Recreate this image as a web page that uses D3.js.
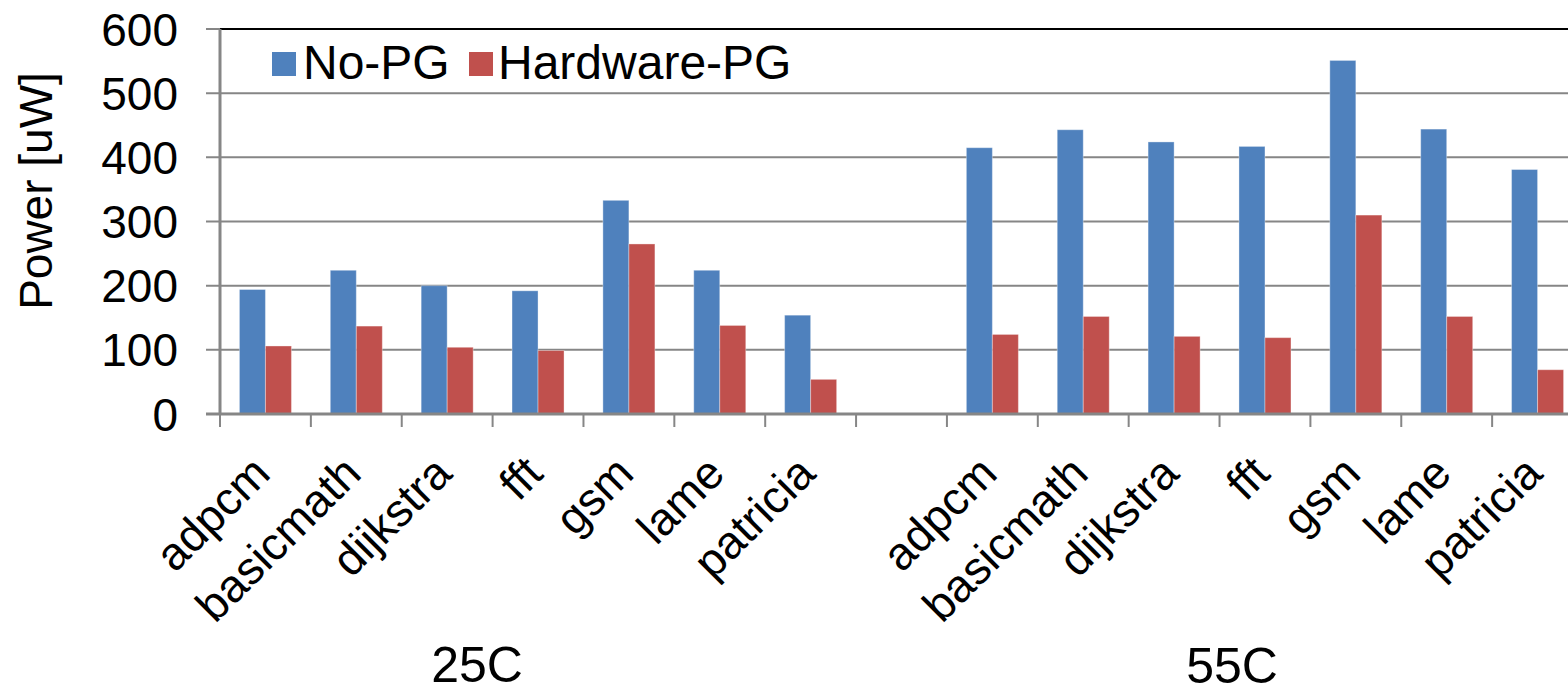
<!DOCTYPE html>
<html>
<head>
<meta charset="utf-8">
<script src="https://cdn.jsdelivr.net/npm/d3@7"></script>
<style>
  html, body { margin: 0; padding: 0; background: #fff; }
  svg { display: block; font-family: "Liberation Sans", Arial, sans-serif; }
</style>
</head>
<body>
<svg id="chart" width="1568" height="694"></svg>
<script>
// Benchmarks, temperature groups and series
const benchmarks = ["adpcm", "basicmath", "dijkstra", "fft", "gsm", "lame", "patricia"];
const groups = ["25C", "55C"];
const seriesNames = ["No-PG", "Hardware-PG"];
const seriesColors = ["#4F81BD", "#C0504D"];

// Power in uW
const noPG25 = [194, 224, 200, 192, 333, 224, 154];
const hwPG25 = [106, 137, 104, 99, 265, 138, 54];
const noPG55 = [415, 443, 424, 417, 551, 444, 381];
const hwPG55 = [124, 152, 121, 119, 310, 152, 69];

const yTicks = [0, 100, 200, 300, 400, 500, 600];

// Category slots: 25C benchmarks, an empty spacer slot, 55C benchmarks
const slots = [];
benchmarks.forEach((b, i) => slots.push({ key: "25C-" + b, label: b, values: [noPG25[i], hwPG25[i]] }));
slots.push({ key: "gap", label: "", values: null });
benchmarks.forEach((b, i) => slots.push({ key: "55C-" + b, label: b, values: [noPG55[i], hwPG55[i]] }));

const svg = d3.select("#chart");
const W = 1568;

const x = d3.scaleBand().domain(slots.map(d => d.key)).range([220, 1583]).padding(0);
const xs = d3.scaleBand().domain(seriesNames).range([0, x.bandwidth()])
  .paddingInner(0).paddingOuter(0.747);
const y = d3.scaleLinear().domain([0, 600]).range([414, 29]);

const grid = "#868686";

// Horizontal gridlines with short outer ticks on the value axis
svg.append("g").selectAll("line")
  .data(yTicks.filter(t => t > 0 && t < 600))
  .join("line")
  .attr("x1", 206).attr("x2", W)
  .attr("y1", d => y(d)).attr("y2", d => y(d))
  .attr("stroke", grid).attr("stroke-width", 2);

// Plot-area top border
svg.append("line").attr("x1", 206).attr("x2", 220)
  .attr("y1", y(600)).attr("y2", y(600))
  .attr("stroke", grid).attr("stroke-width", 2);
svg.append("line").attr("x1", 220).attr("x2", W)
  .attr("y1", y(600)).attr("y2", y(600))
  .attr("stroke", "#000").attr("stroke-width", 2);

// Bars
const barG = svg.append("g");
slots.filter(s => s.values).forEach(s => {
  barG.selectAll(null)
    .data(s.values.map((v, i) => ({ v, i })))
    .join("rect")
    .attr("x", d => x(s.key) + xs(seriesNames[d.i]))
    .attr("width", xs.bandwidth())
    .attr("y", d => y(d.v))
    .attr("height", d => y(0) - y(d.v))
    .attr("fill", d => seriesColors[d.i])
    .attr("stroke", "rgba(255,255,255,0.35)")
    .attr("stroke-width", 1);
});

// Value axis line
svg.append("line").attr("x1", 220).attr("x2", 220)
  .attr("y1", y(600)).attr("y2", y(0) + 1)
  .attr("stroke", grid).attr("stroke-width", 3);

// Category axis line
svg.append("line").attr("x1", 206).attr("x2", W)
  .attr("y1", y(0)).attr("y2", y(0))
  .attr("stroke", grid).attr("stroke-width", 3);

// Category tick marks at slot boundaries
const bounds = slots.map(s => x(s.key)).concat([x(slots[slots.length - 1].key) + x.bandwidth()]);
svg.append("g").selectAll("line").data(bounds).join("line")
  .attr("x1", d => d).attr("x2", d => d)
  .attr("y1", y(0)).attr("y2", y(0) + 13)
  .attr("stroke", grid).attr("stroke-width", 2);

// Value tick labels
svg.append("g").selectAll("text").data(yTicks).join("text")
  .attr("x", 178).attr("y", d => y(d) + 16.5)
  .attr("text-anchor", "end")
  .attr("font-size", 46).attr("fill", "#000")
  .text(d => d);

// Value axis title
svg.append("text")
  .attr("transform", "translate(52,191) rotate(-90)")
  .attr("text-anchor", "middle")
  .attr("font-size", 46).attr("fill", "#000")
  .text("Power [uW]");

// Rotated benchmark labels
svg.append("g").selectAll("text").data(slots.filter(s => s.label)).join("text")
  .attr("transform", d => `translate(${x(d.key) + x.bandwidth() / 2 + 7},476) rotate(-45)`)
  .attr("text-anchor", "end")
  .attr("font-size", 46).attr("fill", "#000")
  .text(d => d.label);

// Temperature group labels
const groupPos = [{ x: 477, y: 682 }, { x: 1232, y: 683 }];
svg.append("g").selectAll("text").data(groups).join("text")
  .attr("x", (d, i) => groupPos[i].x).attr("y", (d, i) => groupPos[i].y)
  .attr("text-anchor", "middle")
  .attr("font-size", 50).attr("fill", "#000")
  .text(d => d);

// Legend
const legendPos = [{ sx: 272, tx: 303 }, { sx: 469, tx: 498 }];
const lg = svg.append("g");
seriesNames.forEach((name, i) => {
  lg.append("rect").attr("x", legendPos[i].sx).attr("y", 52)
    .attr("width", 24).attr("height", 24).attr("fill", seriesColors[i]);
  lg.append("text").attr("x", legendPos[i].tx).attr("y", 79)
    .attr("font-size", 48).attr("fill", "#000").text(name);
});
</script>
</body>
</html>
